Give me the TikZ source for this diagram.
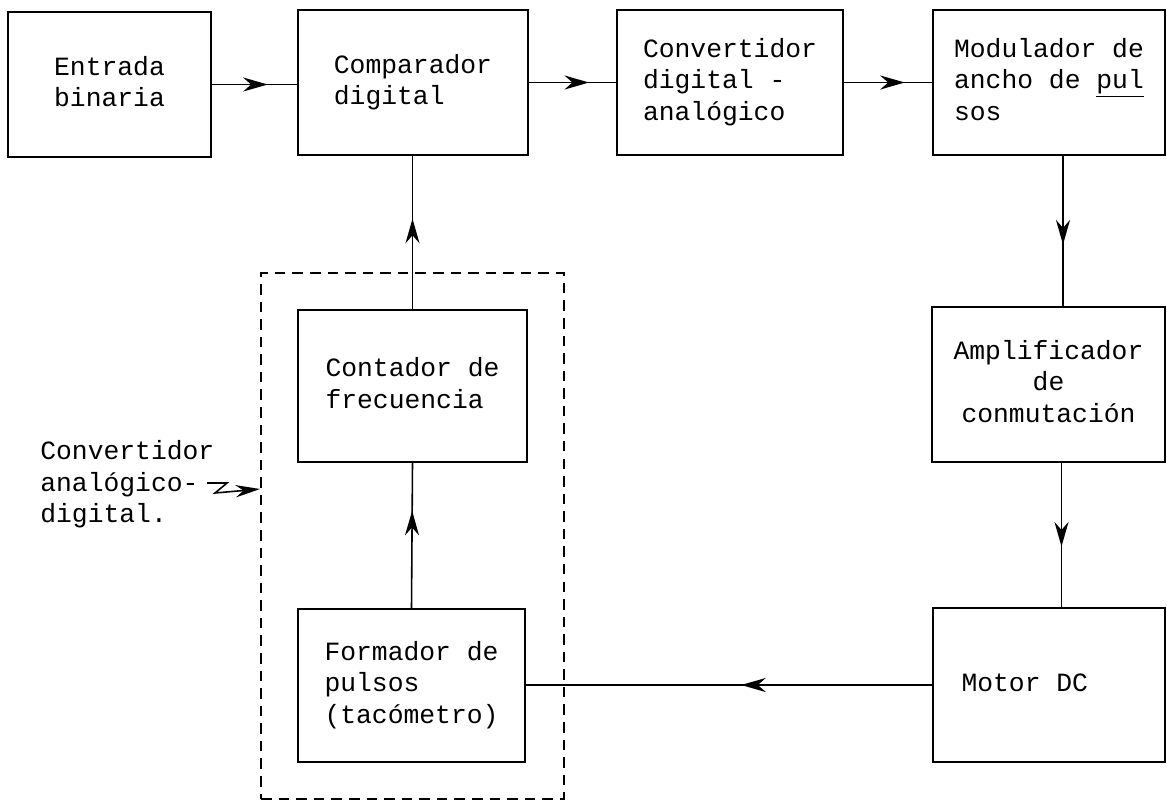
\documentclass[tikz,border=0pt]{standalone}
\usepackage{fontspec}
\setmonofont{Liberation Mono}
\usetikzlibrary{arrows.meta,decorations.markings,fit}
\newcommand{\maq}{\ttfamily\fontsize{15}{18}\selectfont}
\begin{document}
\begin{tikzpicture}[x=0.02cm,y=-0.02cm, bloque/.style={draw,line width=1pt,minimum width=4.6cm,minimum height=3.06cm,font=\maq,inner sep=0pt}, linea/.style={line width=0.9pt}, flecha/.style={linea,postaction={decorate},decoration={markings,mark=at position #1 with {\arrow{Stealth[length=14pt,width=8pt]}}}}]
\useasboundingbox (0,0) rectangle (1167,799);
% fila superior
\node[bloque, minimum width=4.06cm, minimum height=2.9cm] (ent) at (109.5,84.5) {\begin{tabular}{l} Entrada \\ binaria \end{tabular}};
\node[bloque, minimum height=2.9cm] (comp) at (413,82.5) {\begin{tabular}{l} Comparador \\ digital \end{tabular}};
\node[bloque, minimum width=4.52cm, minimum height=2.9cm] (dac) at (730,82.5) {\begin{tabular}{l} Convertidor \\ digital - \\ analógico \end{tabular}};
\node[bloque, minimum width=4.64cm, minimum height=2.9cm] (pwm) at (1049,82.5) {\begin{tabular}{l} Modulador de \\ ancho de \underline{pul} \\ sos \end{tabular}};
% lazo de realimentacion
\node[bloque, minimum width=4.66cm, minimum height=3.1cm] (amp) at (1048.5,384.5) {\begin{tabular}{c} Amplificador \\ de \\ conmutación \end{tabular}};
\node[bloque, minimum width=4.64cm, minimum height=3.08cm] (motor) at (1049,685) {\begin{tabular}{p{3.5cm}} Motor DC \end{tabular}};
\node[bloque, minimum width=4.58cm, minimum height=3.04cm] (cont) at (412.5,386) {\begin{tabular}{l} Contador de \\ frecuencia \end{tabular}};
\node[bloque, minimum width=4.54cm] (form) at (411.5,685.5) {\begin{tabular}{l} Formador de \\ pulsos \\ (tacómetro) \end{tabular}};
\node[draw,line width=1.2pt,dash pattern=on 6pt off 4pt,fit=(cont)(form),inner sep=0.72cm] (adc) {};
\node[font=\maq,inner sep=0pt,anchor=west] (lbl) at (40,485) {\begin{tabular}{@{}l@{}} Convertidor \\ analógico- \\ digital. \end{tabular}};
% conexiones
\draw[flecha=0.655] (ent.east) -- (ent.east -| comp.west);
\draw[flecha=0.69] (comp.east) -- (dac.west);
\draw[flecha=0.69] (dac.east) -- (pwm.west);
\draw[flecha=0.59] ([xshift=0.28cm]pwm.south) -- ([xshift=0.28cm]pwm.south |- amp.north);
\draw[flecha=0.58] ([xshift=0.26cm]amp.south) -- ([xshift=0.26cm]amp.south |- motor.north);
\draw[flecha=0.47] (motor.west) -- (motor.west -| form.east);
\draw[flecha=0.67] (form.north) -- (cont.south);
\draw[flecha=0.59] (cont.north) -- (cont.north |- comp.south);
\coordinate (z0) at (207,483);
\draw[linea,-{Stealth[length=14pt,width=7pt]}] (z0) -- ++(20,0) -- ++(-12,10) -- ([yshift=0.94cm]adc.west);
\end{tikzpicture}
\end{document}
